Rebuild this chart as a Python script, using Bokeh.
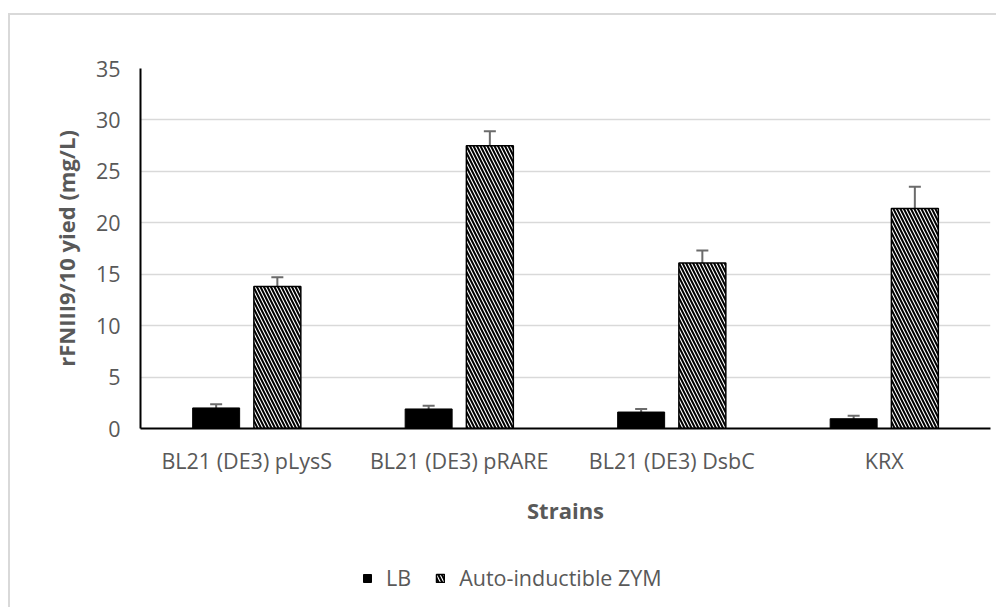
from bokeh.plotting import figure
from bokeh.layouts import column
from bokeh.models import (ColumnDataSource, Whisker, TeeHead, Legend, LegendItem,
                          FactorRange, Range1d, FixedTicker)
from bokeh.transform import dodge
from bokeh.embed import file_html
from bokeh.resources import INLINE

# ---- data ----
categories = ["BL21 (DE3) pLysS", "BL21 (DE3) pRARE", "BL21 (DE3) DsbC", "KRX"]
lb = [2.0, 1.9, 1.6, 0.95]
lb_err = [0.35, 0.3, 0.3, 0.3]
zym = [13.8, 27.5, 16.1, 21.4]
zym_err = [0.9, 1.4, 1.2, 2.1]
y_ticks = [0, 5, 10, 15, 20, 25, 30, 35]
series_names = ["LB", "Auto-inductible ZYM"]
x_title = "Strains"
y_title = "rFNIII9/10 yied (mg/L)"

FONT = "Open Sans"
TXT = "#595959"
ERR = "#6b6b6b"

src = ColumnDataSource(dict(
    cat=categories, lb=lb, zym=zym,
    lb_hi=[v + e for v, e in zip(lb, lb_err)], lb_lo=[v - e for v, e in zip(lb, lb_err)],
    zym_hi=[v + e for v, e in zip(zym, zym_err)], zym_lo=[v - e for v, e in zip(zym, zym_err)],
))

p = figure(x_range=FactorRange(factors=categories, range_padding=0),
           y_range=Range1d(0, 35),
           width=986, height=523, output_backend="svg", toolbar_location=None,
           min_border_left=130, min_border_right=6, min_border_top=53, min_border_bottom=110)
p.outline_line_color = None
p.background_fill_color = "white"

OFF = 0.144
W = 0.221
LB_STYLE = dict(fill_color="black", line_color="black", line_width=1)
ZYM_STYLE = dict(fill_color="white", line_color="black", line_width=1.5,
                 hatch_pattern="\\", hatch_color="black", hatch_scale=7, hatch_weight=2)
r1 = p.vbar(x=dodge("cat", -OFF, range=p.x_range), top="lb", width=W, source=src, **LB_STYLE)
r2 = p.vbar(x=dodge("cat", OFF, range=p.x_range), top="zym", width=W, source=src, **ZYM_STYLE)

for base, hi, lo in [(dodge("cat", -OFF, range=p.x_range), "lb_hi", "lb_lo"),
                     (dodge("cat", OFF, range=p.x_range), "zym_hi", "zym_lo")]:
    w = Whisker(base=base, upper=hi, lower=lo, source=src,
                line_color=ERR, line_width=2,
                upper_head=TeeHead(size=12, line_color=ERR, line_width=2),
                lower_head=TeeHead(size=12, line_color=ERR, line_width=2))
    p.add_layout(w)

# axes
p.yaxis.ticker = FixedTicker(ticks=y_ticks)
for ax in (p.xaxis[0], p.yaxis[0]):
    ax.axis_line_color = "black"
    ax.axis_line_width = 2
    ax.major_tick_line_color = None
    ax.minor_tick_line_color = None
    ax.major_tick_in = 0
    ax.major_tick_out = 0
    ax.major_label_text_font = FONT
    ax.major_label_text_font_size = "21.5px"
    ax.major_label_text_color = TXT
    ax.axis_label_text_font = FONT
    ax.axis_label_text_font_size = "22px"
    ax.axis_label_text_font_style = "bold"
    ax.axis_label_text_color = TXT
p.yaxis.major_label_standoff = 20
p.yaxis.axis_label = y_title
p.yaxis.axis_label_standoff = 12
p.xaxis.major_label_standoff = 17
p.xaxis.axis_label = x_title
p.xaxis.axis_label_standoff = 17

p.xgrid.grid_line_color = None
p.ygrid.grid_line_color = "#d9d9d9"
p.ygrid.grid_line_width = 1.5

# legend strip below the chart: legend proxies share the bar styles; with a numeric
# x range the categorical bars are not drawn there, only their legend swatches
pl = figure(width=986, height=69, output_backend="svg", toolbar_location=None,
            min_border_left=0, min_border_right=0, min_border_top=0, min_border_bottom=0,
            x_range=Range1d(0, 1), y_range=Range1d(0, 1))
pl.axis.visible = False
pl.grid.visible = False
pl.outline_line_color = None
l1 = pl.vbar(x="cat", top="lb", width=W, source=src, **LB_STYLE)
l2 = pl.vbar(x="cat", top="zym", width=W, source=src, **ZYM_STYLE)
legend = Legend(items=[LegendItem(label=series_names[0], renderers=[l1]),
                       LegendItem(label=series_names[1], renderers=[l2])],
                orientation="horizontal", location=(222, 15),
                border_line_color=None, background_fill_alpha=0,
                label_text_font=FONT, label_text_font_size="21.5px", label_text_color=TXT,
                glyph_width=10, glyph_height=10, label_standoff=14, spacing=24,
                padding=0, margin=0)
pl.add_layout(legend)

layout = column(p, pl, spacing=0)
layout.styles = {"border-left": "2px solid #d9d9d9", "border-top": "2px solid #d9d9d9",
                 "margin-top": "13px", "margin-left": "8px"}

open("out.html", "w").write(file_html(layout, INLINE))
